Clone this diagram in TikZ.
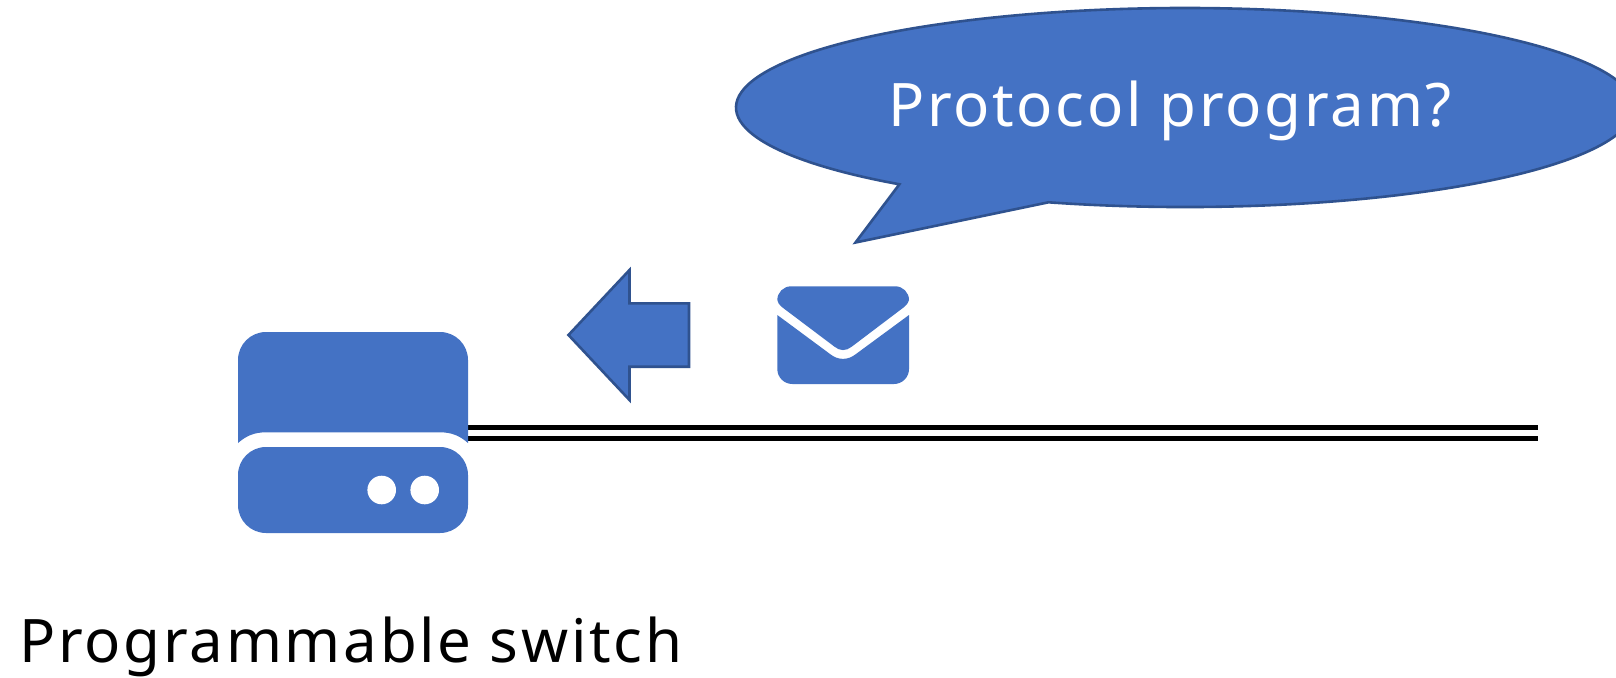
\documentclass[tikz,border=0pt]{standalone}
\usepackage{fontspec}
\setmainfont{Noto Sans}[LetterSpace=4.5]
\definecolor{fillblue}{HTML}{4472C4}
\definecolor{edgeblue}{HTML}{2F528F}
\tikzset{
  iconshape/.style={fill=fillblue,draw=none},
  calloutshape/.style={fill=fillblue,draw=edgeblue,line width=2.6pt,line join=miter},
  dot/.style={circle,fill=white,draw=none,minimum size=28.6pt,inner sep=0pt},
  wire/.style={draw=black,line width=5.5pt,double=white,double distance=5.5pt},
  label/.style={inner sep=0pt,anchor=base}
}
\begin{document}
\begin{tikzpicture}[x=1pt,y=1pt,yscale=-1]
\clip (0,0) rectangle (1616,677);
\fill[white] (0,0) rectangle (1616,677);
% link
\coordinate (wireStart) at (467,432.8);
\coordinate (wireEnd) at (1538,432.8);
\draw[wire] (wireStart) -- (wireEnd);
% switch
\fill[iconshape] (238,443) -- (238,360) arc (180:270:28) -- (440,332) arc (270:360:28) -- (468,443)
  .. controls (460,436) and (452,432.3) .. (440,432.3) -- (266,432.3)
  .. controls (254,432.3) and (246,436) .. (238,443) -- cycle;
\fill[iconshape,rounded corners=28pt] (238,447) rectangle (468,533);
\node[dot] (dotA) at (381.7,490) {};
\node[dot] (dotB) at (424.7,490) {};
% arrow
\draw[calloutshape] (568.5,335) -- (629.5,270) -- (629.5,303.3) -- (689,303.3) -- (689,366.7) -- (629.5,366.7) -- (629.5,400) -- cycle;
% envelope
\fill[iconshape] (782.5,307.5) .. controls (779,304.5) and (777.3,302) .. (777.3,300)
  arc (180:270:13.7) -- (895.3,286.3) arc (270:360:13.7)
  .. controls (909,302) and (907,304.5) .. (903.5,307.5)
  -- (851.7,346.7) .. controls (846,351.2) and (840,351.2) .. (834.5,346.7) -- cycle;
\fill[iconshape] (777.3,315) -- (830,354) .. controls (838,360.5) and (848,360.5) .. (856,354)
  -- (909,315) -- (909,369) arc (0:90:15) -- (792.3,384) arc (90:180:15) -- cycle;
% callout
\draw[calloutshape] (1048.5,202.3) arc (107.7:-230.5:449 and 99.5) -- (855.5,242.5) -- cycle;
\node[label,text=white,font=\fontsize{60}{60}\selectfont] (question) at (1170,126.7) {Protocol program?};
\node[label,text=black,font=\fontsize{60}{60}\selectfont] (caption) at (351,662.5) {Programmable switch};
\end{tikzpicture}
\end{document}
